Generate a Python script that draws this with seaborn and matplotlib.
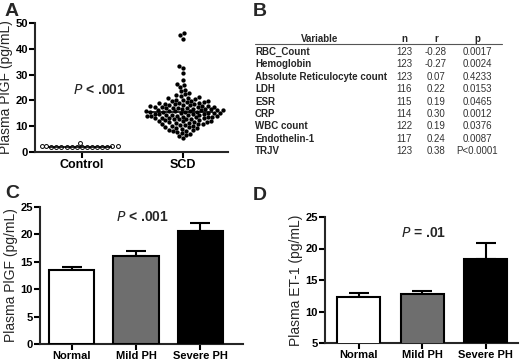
import numpy as np
import matplotlib
matplotlib.use("Agg")
import matplotlib.pyplot as plt
import seaborn as sns

# --- DATA ---
CONTROL_VALUES = [3.6, 2.3, 2.2, 2.1, 2.0, 2.0, 1.9, 2.1, 2.2, 2.0, 1.9, 2.1, 2.0, 1.8, 2.2, 2.0, 2.1]
SCD_VALUES = [
    46.0, 45.2, 43.8, 33.3, 32.5, 30.8, 27.9, 26.4, 25.8, 25.1,
    24.2, 23.5, 22.8, 22.4, 22.1,
    21.6, 21.2, 21.0, 20.8, 20.5, 20.3, 20.1,
    19.8, 19.6, 19.4, 19.2, 19.0, 19.7,
    18.9, 18.7, 18.5, 18.3, 18.1, 18.6, 18.2, 18.8,
    17.9, 17.7, 17.5, 17.3, 17.1, 17.6, 17.2, 17.8, 17.4, 17.0,
    16.9, 16.7, 16.5, 16.3, 16.1, 16.6, 16.2, 16.8, 16.4, 16.0,
    15.9, 15.7, 15.5, 15.3, 15.1, 15.6, 15.2, 15.8, 15.4, 15.0, 15.5,
    14.9, 14.7, 14.5, 14.3, 14.1, 14.6, 14.2, 14.8, 14.4, 14.0,
    13.9, 13.7, 13.5, 13.3, 13.1, 13.6, 13.2, 13.8, 13.4, 13.0,
    12.9, 12.6, 12.3, 12.0, 12.8, 12.4, 12.1, 12.7,
    11.9, 11.5, 11.2, 11.7, 11.3, 11.0, 11.8,
    10.8, 10.4, 10.1, 10.6, 10.2, 10.9,
    9.8, 9.4, 9.1, 9.6, 9.2,
    8.7, 8.3, 8.0, 8.5,
    7.8, 7.4, 7.1,
    6.6, 6.2,
    5.5,
]
GROUPS_A = ['Control', 'SCD']

TABLE_HEADER = ['Variable', 'n', 'r', 'p']
TABLE_VARS = ['RBC_Count', 'Hemoglobin', 'Absolute Reticulocyte count', 'LDH', 'ESR',
              'CRP', 'WBC count', 'Endothelin-1', 'TRJV']
TABLE_N = ['123', '123', '123', '116', '115', '114', '122', '117', '123']
TABLE_R = ['-0.28', '-0.27', '0.07', '0.22', '0.19', '0.30', '0.19', '0.24', '0.38']
TABLE_P = ['0.0017', '0.0024', '0.4233', '0.0153', '0.0465', '0.0012', '0.0376', '0.0087', 'P<0.0001']

PH_GROUPS = ['Normal', 'Mild PH', 'Severe PH']
PLGF_MEAN = [13.5, 16.0, 20.6]
PLGF_SEM = [0.5, 1.0, 1.5]
ET1_MEAN = [12.3, 12.8, 18.3]
ET1_SEM = [0.7, 0.5, 2.5]
BAR_COLORS = ['white', '#6e6e6e', 'black']

sns.set_theme(style="ticks")
plt.rcParams['font.family'] = ['Liberation Sans', 'DejaVu Sans']
plt.rcParams['axes.linewidth'] = 1.5
plt.rcParams['xtick.major.width'] = 1.5
plt.rcParams['ytick.major.width'] = 1.5
plt.rcParams['xtick.major.size'] = 4
plt.rcParams['ytick.major.size'] = 4

W, H = 520, 361
fig = plt.figure(figsize=(W / 100, H / 100), dpi=100)


def px_axes(x0, y0, x1, y1):
    # axes from pixel box (top-left origin)
    return fig.add_axes([x0 / W, 1 - y1 / H, (x1 - x0) / W, (y1 - y0) / H])


def style_ax(ax):
    sns.despine(ax=ax)
    ax.tick_params(axis='both', colors='black', labelsize=8, pad=1)
    for lab in ax.get_xticklabels() + ax.get_yticklabels():
        lab.set_fontweight('bold')
    ax.set_xlabel('')


# --- Panel A ---
axA = px_axes(35, 23, 228, 152)
sns.swarmplot(x=['Control'] * len(CONTROL_VALUES), y=CONTROL_VALUES, order=GROUPS_A,
              color='white', edgecolor='black', linewidth=0.7, size=2.8, ax=axA)
sns.swarmplot(x=['SCD'] * len(SCD_VALUES), y=SCD_VALUES, order=GROUPS_A,
              color='black', size=3.1, ax=axA)
for i, vals in enumerate([CONTROL_VALUES, SCD_VALUES]):
    axA.hlines(np.median(vals), i - 0.34, i + 0.30, color='black', lw=1.2, zorder=5)
axA.set_xlim(-0.465, 1.45)
axA.set_ylim(0, 50)
axA.set_yticks([0, 10, 20, 30, 40, 50])
axA.set_ylabel('Plasma PlGF (pg/mL)', fontsize=10, labelpad=2)
axA.text(-0.09, 24, r'$\bf{\it{P}}$ < .001', fontsize=10, fontweight='bold', va='center')
style_ax(axA)
axA.tick_params(axis='x', labelsize=9)

# --- Panel B (table) ---
axT = fig.add_axes([0, 0, 1, 1], zorder=-1)
axT.set_xlim(0, W)
axT.set_ylim(H, 0)
axT.axis('off')
axT.text(320, 39, TABLE_HEADER[0], ha='center', va='center', fontsize=7, fontweight='bold')
axT.text(404, 39, TABLE_HEADER[1], ha='center', va='center', fontsize=7, fontweight='bold')
axT.text(436, 39, TABLE_HEADER[2], ha='center', va='center', fontsize=7, fontweight='bold')
axT.text(477, 39, TABLE_HEADER[3], ha='center', va='center', fontsize=7, fontweight='bold')
axT.plot([255, 502], [44, 44], color='#555555', lw=0.8)
for k in range(len(TABLE_VARS)):
    yy = 52 + k * 12.4
    axT.text(255, yy, TABLE_VARS[k], ha='left', va='center', fontsize=7, fontweight='bold')
    axT.text(404, yy, TABLE_N[k], ha='center', va='center', fontsize=7, color='#333333')
    axT.text(436, yy, TABLE_R[k], ha='center', va='center', fontsize=7, color='#333333')
    axT.text(477, yy, TABLE_P[k], ha='center', va='center', fontsize=7, color='#333333')

# --- Panels C & D ---
def bar_panel(ax, means, sems, ylim, yticks, ylabel, ptext, ptx, pty, xlim, width):
    sns.barplot(x=PH_GROUPS, y=means, hue=PH_GROUPS, palette=BAR_COLORS, legend=False,
                edgecolor='black', linewidth=1.5, width=width, ax=ax, zorder=3)
    ax.errorbar(range(len(means)), means, yerr=[np.zeros(len(sems)), sems], fmt='none',
                ecolor='black', elinewidth=1.5, capsize=7, capthick=1.5, zorder=2)
    ax.set_xlim(*xlim)
    ax.set_ylim(*ylim)
    ax.set_yticks(yticks)
    ax.set_ylabel(ylabel, fontsize=10, labelpad=2)
    ax.text(ptx, pty, ptext, fontsize=10, fontweight='bold', ha='center', va='center')
    style_ax(ax)
    ax.tick_params(axis='x', labelsize=8)


axC = px_axes(40, 207, 243, 344)
bar_panel(axC, PLGF_MEAN, PLGF_SEM, (0, 25), [0, 5, 10, 15, 20, 25], 'Plasma PlGF (pg/mL)',
          r'$\bf{\it{P}}$ < .001', 1.1, 23.2, (-0.49, 2.66), 0.70)

axD = px_axes(325, 217, 518, 343)
bar_panel(axD, ET1_MEAN, ET1_SEM, (5, 25), [5, 10, 15, 20, 25], 'Plasma ET-1 (pg/mL)',
          r'$\bf{\it{P}}$ = .01', 1.03, 22.5, (-0.53, 2.51), 0.68)

# panel letters
for lbl, x, y in [('A', 5, 12), ('B', 253, 12), ('C', 5, 193), ('D', 253, 195)]:
    axT.text(x, y, lbl, fontsize=14, fontweight='bold', ha='left', va='center')

fig.savefig('out.png', dpi=100)
